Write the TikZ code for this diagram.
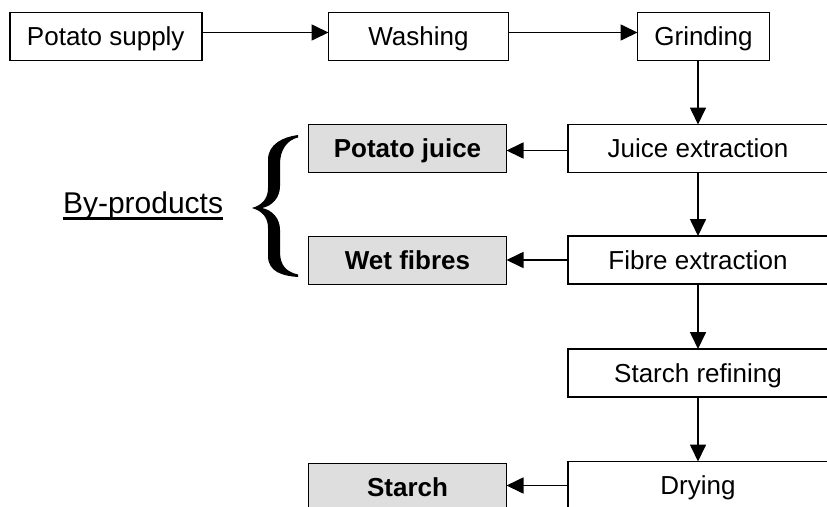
\documentclass[tikz,border=0pt]{standalone}
\usepackage{fontspec}
\setmainfont{Liberation Sans}
\usetikzlibrary{arrows.meta}
\begin{document}
\begin{tikzpicture}[x=1pt,y=-1pt,
  box/.style={draw, line width=1.7pt, inner sep=0pt, outer sep=0pt,
    minimum height=48pt, text height=21pt, text depth=3pt,
    font=\fontsize{26}{30}\selectfont},
  proc/.style={box, fill=white},
  prod/.style={box, fill=black!13, minimum width=198pt, font=\fontsize{26}{30}\selectfont\bfseries},
  col/.style={proc, minimum width=260pt},
  arr/.style={line width=1.7pt, -{Triangle[length=17pt,width=16pt]}}]
\useasboundingbox (0,0) rectangle (827,506);
\clip (0,0) rectangle (827,506);
\fill[white] (0,0) rectangle (827,506);
% top row
\node[proc, minimum width=192pt] (ps) at (105.75,36.5) {Potato supply};
\node[proc, minimum width=180pt] (wa) at (418.5,36.5) {Washing};
\node[proc, minimum width=132pt] (gr) at (703.5,36.5) {Grinding};
% right column
\node[col] (je) at (698,148.5) {Juice extraction};
\node[col] (fe) at (698,260) {Fibre extraction};
\node[col] (sr) at (698,373) {Starch refining};
\node[col] (dr) at (698,485.5) {Drying};
% products
\node[prod] (pj) at (407.5,148.5) {Potato juice};
\node[prod] (wf) at (407.5,260.5) {Wet fibres};
\node[prod] (st) at (407.5,487.5) {Starch};
% by-products label
\node[inner sep=0pt, outer sep=0pt, anchor=base west, font=\fontsize{30}{34}\selectfont] (by) at (63,213) {By-products};
\draw[line width=2.3pt] ([yshift=-5.5pt]by.base west) -- ([yshift=-5.5pt]by.base east);
% brace
\fill (298,135) .. controls (283,137) and (268,144) .. (268,160)
  -- (268,188) .. controls (268,199) and (262,205) .. (252,208)
  .. controls (262,211) and (268,217) .. (268,228)
  -- (268,256) .. controls (268,272) and (283,276) .. (298,277)
  -- (298,274.5) .. controls (287,272) and (280,266) .. (280,252)
  -- (280,230) .. controls (280,218) and (272,210) .. (262,208)
  .. controls (272,206) and (280,198) .. (280,186)
  -- (280,164) .. controls (280,150) and (287,140) .. (298,137.5) -- cycle;
% connectors
\draw[arr] ([yshift=4pt]ps.east) -- ([yshift=4pt]ps.east -| wa.west);
\draw[arr] ([yshift=4pt]wa.east) -- ([yshift=4pt]wa.east -| gr.west);
\draw[arr] (gr.south -| je.north) -- (je.north);
\draw[arr] (je.south) -- (fe.north);
\draw[arr] (fe.south) -- (sr.north);
\draw[arr] (sr.south) -- (dr.north);
\draw[arr] ([yshift=-2pt]je.west) -- ([yshift=-2pt]je.west -| pj.east);
\draw[arr] (fe.west) -- (fe.west -| wf.east);
\draw[arr] (dr.west) -- (dr.west -| st.east);
\end{tikzpicture}
\end{document}
